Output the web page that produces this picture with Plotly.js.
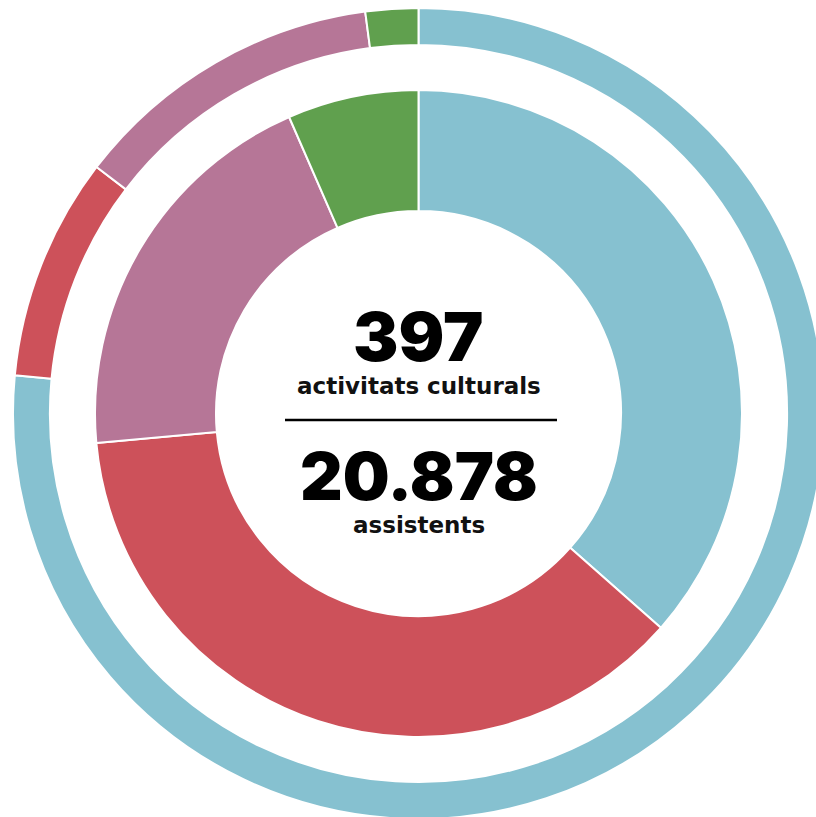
<!DOCTYPE html>
<html>
<head>
<meta charset="utf-8">
<script src="https://cdn.plot.ly/plotly-3.0.1.min.js"></script>
<style>
html, body { margin: 0; padding: 0; overflow: hidden; background: #fff; width: 816px; height: 817px; }
#chart { width: 837px; height: 830px; }
</style>
</head>
<body>
<div id="chart"></div>
<script>
const categories = ["Categoria 1", "Categoria 2", "Categoria 3", "Categoria 4"];
const colors = ["#86C1D0", "#CD515A", "#B67697", "#60A04E"];
const activitats = [145, 147, 79, 26];
const assistents = [15972, 1858, 2610, 438];
const totalActivitats = "397";
const totalAssistents = "20.878";

const W = 837, H = 830, L = 13, R = 13, T = 8, B = 11;
const plotH = H - T - B;
function py(pix) { return 1 - (pix - T) / plotH; }

const traces = [
  {
    type: "pie", labels: categories, values: assistents, sort: false,
    direction: "clockwise", rotation: 0, hole: 0.909,
    marker: { colors: colors, line: { color: "#ffffff", width: 2 } },
    textinfo: "none", hoverinfo: "label+value", showlegend: false,
    domain: { x: [0, 1], y: [0, 1] }
  },
  {
    type: "pie", labels: categories, values: activitats, sort: false,
    direction: "clockwise", rotation: 0, hole: 0.626,
    marker: { colors: colors, line: { color: "#ffffff", width: 2 } },
    textinfo: "none", hoverinfo: "label+value", showlegend: false,
    domain: { x: [0.1011, 0.8989], y: [0.1011, 0.8989] }
  }
];

const big = { family: "Inter, 'DejaVu Sans', sans-serif", size: 68, color: "#000", weight: 900 };
const big2 = { family: "Inter, 'DejaVu Sans', sans-serif", size: 66, color: "#000", weight: 900 };
const small = { family: "'DejaVu Sans', sans-serif", size: 23, color: "#111", weight: 700 };

const layout = {
  width: W, height: H,
  margin: { l: L, r: R, t: T, b: B, pad: 0 },
  paper_bgcolor: "#ffffff",
  showlegend: false,
  annotations: [
    { text: totalActivitats, x: 0.5, y: py(336), xref: "paper", yref: "paper", xanchor: "center", yanchor: "middle", showarrow: false, font: big, height: 62 },
    { text: "activitats culturals", x: 0.5, y: py(386), xref: "paper", yref: "paper", xanchor: "center", yanchor: "middle", showarrow: false, font: small },
    { text: totalAssistents, x: 0.5, y: py(476), xref: "paper", yref: "paper", xanchor: "center", yanchor: "middle", showarrow: false, font: big2, height: 60 },
    { text: "assistents", x: 0.5, y: py(525), xref: "paper", yref: "paper", xanchor: "center", yanchor: "middle", showarrow: false, font: small }
  ],
  shapes: [
    { type: "line", xref: "paper", yref: "paper", x0: (285 - L) / (W - L - R), x1: (557 - L) / (W - L - R), y0: py(420), y1: py(420), line: { color: "#000", width: 2.5 } }
  ]
};

Plotly.newPlot("chart", traces, layout, { displayModeBar: false, staticPlot: true });
</script>
</body>
</html>
